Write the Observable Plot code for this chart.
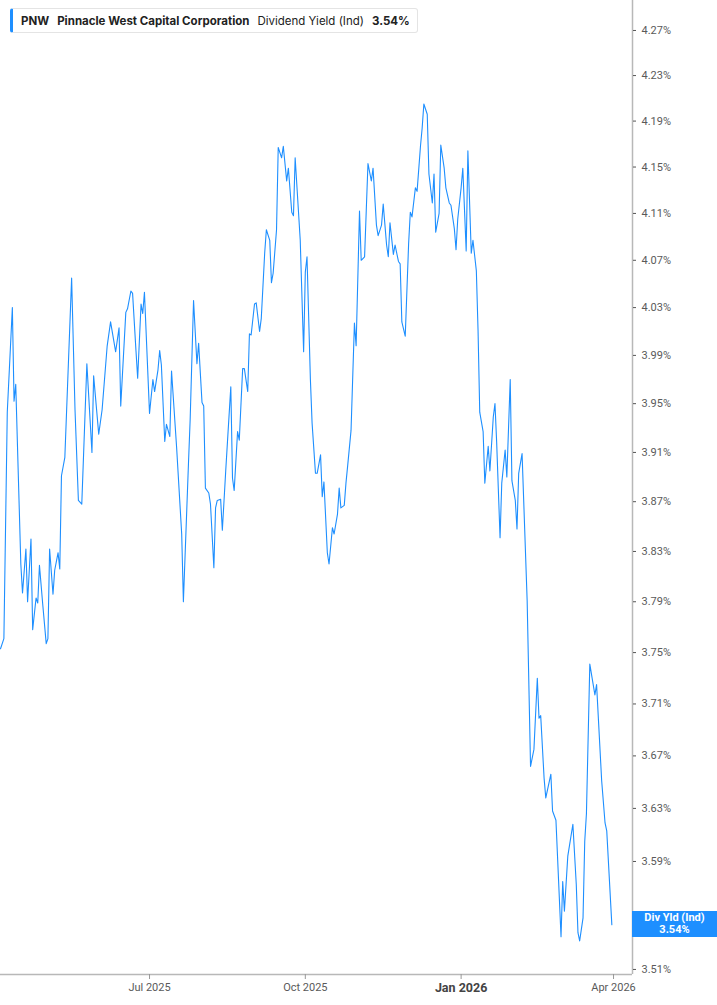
<!DOCTYPE html>
<html>
<head>
<meta charset="utf-8">
<script src="https://cdn.jsdelivr.net/npm/d3@7"></script>
<script src="https://cdn.jsdelivr.net/npm/@observablehq/plot@0.6"></script>
<style>
  html, body { margin: 0; padding: 0; background: #fff; }
  #wrap { position: relative; width: 717px; height: 1005px; overflow: hidden; }
  #legend {
    position: absolute; left: 10px; top: 8px; height: 25px;
    display: flex; align-items: center; gap: 8px;
    padding: 0 7px 0 8px; box-sizing: border-box;
    border: 1px solid #e4e4e4; border-left: 3px solid #1e8fff; border-radius: 3px;
    background: #fff; font-family: Inter, Roboto, sans-serif; font-size: 11.5px; color: #222;
    white-space: nowrap;
  }
  #legend .b { font-weight: 700; }
  #endlabel {
    position: absolute; left: 632px; width: 85px; height: 26px;
    background: #1e8fff; color: #fff; font-family: Roboto, sans-serif; font-weight: 700;
    font-size: 11px; line-height: 12px; text-align: center;
    display: flex; flex-direction: column; justify-content: center;
  }
</style>
</head>
<body>
<div id="wrap"></div>
<script>
const ticker = "PNW";
const company = "Pinnacle West Capital Corporation";
const metric = "Dividend Yield (Ind)";
const endLabelTitle = "Div Yld (Ind)";

const dates = ["2025-04-04","2025-04-06","2025-04-08","2025-04-11","2025-04-12","2025-04-13","2025-04-16","2025-04-17","2025-04-19","2025-04-20","2025-04-22","2025-04-23","2025-04-25","2025-04-26","2025-04-27","2025-04-29",
"2025-05-01","2025-05-02","2025-05-03","2025-05-05","2025-05-06","2025-05-08","2025-05-09","2025-05-10","2025-05-12","2025-05-16","2025-05-18","2025-05-20","2025-05-22","2025-05-25","2025-05-28","2025-05-29",
"2025-06-01","2025-06-03","2025-06-06","2025-06-08","2025-06-11","2025-06-13","2025-06-14","2025-06-17","2025-06-18","2025-06-20","2025-06-21","2025-06-23","2025-06-24","2025-06-26","2025-06-27","2025-06-28",
"2025-07-01","2025-07-03","2025-07-04","2025-07-06","2025-07-07","2025-07-08","2025-07-10","2025-07-11","2025-07-13","2025-07-14","2025-07-17","2025-07-20","2025-07-21","2025-07-24","2025-07-25","2025-07-27","2025-07-29","2025-07-30",
"2025-08-01","2025-08-02","2025-08-03","2025-08-05","2025-08-06","2025-08-08","2025-08-09","2025-08-10","2025-08-12","2025-08-13","2025-08-15","2025-08-16","2025-08-18","2025-08-19","2025-08-20","2025-08-22","2025-08-23","2025-08-25","2025-08-26","2025-08-28","2025-08-29","2025-08-30",
"2025-09-01","2025-09-02","2025-09-04","2025-09-05","2025-09-07","2025-09-08","2025-09-10","2025-09-11","2025-09-12","2025-09-14","2025-09-15","2025-09-17","2025-09-18","2025-09-20","2025-09-21","2025-09-23","2025-09-24","2025-09-25","2025-09-28","2025-09-30",
"2025-10-01","2025-10-02","2025-10-04","2025-10-05","2025-10-07","2025-10-08","2025-10-10","2025-10-11","2025-10-12","2025-10-14","2025-10-15","2025-10-17","2025-10-18","2025-10-20","2025-10-21","2025-10-22","2025-10-24","2025-10-25","2025-10-26","2025-10-28","2025-10-30","2025-10-31",
"2025-11-02","2025-11-03","2025-11-05","2025-11-06","2025-11-07","2025-11-09","2025-11-10","2025-11-12","2025-11-13","2025-11-15","2025-11-16","2025-11-18","2025-11-19","2025-11-20","2025-11-22","2025-11-23","2025-11-25","2025-11-26","2025-11-27","2025-11-29",
"2025-12-01","2025-12-02","2025-12-03","2025-12-05","2025-12-06","2025-12-08","2025-12-09","2025-12-10","2025-12-12","2025-12-13","2025-12-15","2025-12-16","2025-12-17","2025-12-19","2025-12-20","2025-12-22","2025-12-23","2025-12-25","2025-12-26","2025-12-28","2025-12-29","2025-12-30",
"2026-01-01","2026-01-02","2026-01-04","2026-01-05","2026-01-07","2026-01-08","2026-01-10","2026-01-11","2026-01-12","2026-01-14","2026-01-15","2026-01-17","2026-01-18","2026-01-20","2026-01-21","2026-01-22","2026-01-24","2026-01-25","2026-01-27","2026-01-28","2026-01-30","2026-01-31",
"2026-02-02","2026-02-03","2026-02-04","2026-02-06","2026-02-09","2026-02-11","2026-02-13","2026-02-15","2026-02-16","2026-02-17","2026-02-19","2026-02-20","2026-02-23","2026-02-24","2026-02-26",
"2026-03-01","2026-03-02","2026-03-03","2026-03-05","2026-03-08","2026-03-10","2026-03-11","2026-03-12","2026-03-14","2026-03-15","2026-03-16","2026-03-18","2026-03-21","2026-03-22","2026-03-25","2026-03-27","2026-03-28","2026-03-31"];

const values = [3.753,3.761,3.943,4.030,3.952,3.966,3.820,3.797,3.832,3.790,3.840,3.768,3.793,3.789,3.819,3.787,
3.757,3.761,3.832,3.796,3.815,3.829,3.816,3.891,3.906,4.055,3.945,3.871,3.868,3.983,3.910,3.973,
3.925,3.945,3.998,4.018,3.993,4.013,3.948,4.026,4.029,4.044,4.042,3.994,3.971,4.033,4.025,4.043,
3.942,3.970,3.960,3.978,3.994,3.982,3.919,3.933,3.923,3.977,3.914,3.844,3.790,3.901,3.937,4.036,3.983,4.000,
3.951,3.948,3.881,3.877,3.868,3.817,3.865,3.871,3.872,3.847,3.895,3.918,3.964,3.889,3.879,3.927,3.920,3.979,3.979,3.960,4.008,4.007,
4.033,4.034,4.010,4.021,4.076,4.096,4.087,4.051,4.059,4.096,4.167,4.158,4.168,4.138,4.149,4.111,4.108,4.158,4.087,3.993,
4.060,4.073,3.970,3.934,3.893,3.893,3.908,3.874,3.886,3.829,3.820,3.849,3.844,3.860,3.881,3.865,3.867,3.885,3.899,3.928,4.017,3.998,
4.112,4.070,4.073,4.113,4.153,4.138,4.149,4.100,4.091,4.100,4.118,4.083,4.073,4.102,4.075,4.083,4.069,4.067,4.018,4.006,
4.084,4.111,4.107,4.132,4.129,4.168,4.184,4.205,4.196,4.144,4.119,4.144,4.094,4.110,4.169,4.149,4.132,4.119,4.117,4.097,4.079,4.105,
4.132,4.149,4.078,4.164,4.076,4.087,4.061,4.011,3.943,3.927,3.885,3.915,3.895,3.939,3.950,3.918,3.841,3.885,3.912,3.890,3.970,3.887,
3.871,3.848,3.893,3.909,3.791,3.662,3.675,3.730,3.699,3.701,3.653,3.638,3.656,3.628,3.621,
3.534,3.575,3.553,3.594,3.618,3.573,3.537,3.531,3.548,3.605,3.626,3.741,3.717,3.725,3.651,3.619,3.613,3.543];

// 3.55% sits behind the end-of-line value box in the reference, so it is not shown
const yTicks = [3.51,3.59,3.63,3.67,3.71,3.75,3.79,3.83,3.87,3.91,3.95,3.99,4.03,4.07,4.11,4.15,4.19,4.23,4.27];
const xTicks = ["2025-07-01","2025-10-01","2026-01-01","2026-04-01"];
const boldTick = "2026-01-01";
const xDomain = ["2025-04-04","2026-04-12T05:00:00Z"];
const yDomain = [3.5063, 4.2968];

const data = dates.map((d, i) => ({date: new Date(d), value: values[i]}));
const fmtPct = d => d.toFixed(2) + "%";
const xd = xDomain.map(d => new Date(d));

const chart = Plot.plot({
  width: 717,
  height: 1005,
  marginTop: 0,
  marginRight: 85,
  marginBottom: 31,
  marginLeft: 0,
  style: {fontFamily: "Roboto, sans-serif", fontSize: "11px", background: "#fff"},
  x: {type: "utc", domain: xd},
  y: {type: "log", domain: yDomain},
  marks: [
    Plot.ruleY([yDomain[0]], {stroke: "#b8b8b8", strokeWidth: 1.5}),
    Plot.ruleX([xd[1]], {stroke: "#b8b8b8", strokeWidth: 1.5}),
    Plot.axisY(yTicks, {anchor: "right", tickSize: 3, tickPadding: 6, tickFormat: fmtPct, fill: "#5a5a5a", stroke: "#555", label: null}),
    Plot.axisX(xTicks.filter(t => t !== boldTick).map(t => new Date(t)), {anchor: "bottom", tickSize: 5, tickPadding: 4, tickFormat: "%b %Y", fill: "#5a5a5a", stroke: "#999", label: null}),
    Plot.axisX([new Date(boldTick)], {anchor: "bottom", tickSize: 5, tickPadding: 4, tickFormat: "%b %Y", fill: "#444", stroke: "#999", fontWeight: "bold", fontSize: 12.5, label: null}),
    Plot.lineY(data, {x: "date", y: "value", stroke: "#1e8fff", strokeWidth: 1.1})
  ]
});

const wrap = document.getElementById("wrap");
wrap.appendChild(chart);

const last = data[data.length - 1];
const legend = document.createElement("div");
legend.id = "legend";
legend.innerHTML = `<span class="b">${ticker}</span><span class="b">${company}</span><span>${metric}</span><span class="b">${fmtPct(last.value)}</span>`;
wrap.appendChild(legend);

const yPos = chart.scale("y").apply(last.value);
const endLabel = document.createElement("div");
endLabel.id = "endlabel";
endLabel.style.top = (yPos - 13) + "px";
endLabel.innerHTML = `<div>${endLabelTitle}</div><div>${fmtPct(last.value)}</div>`;
wrap.appendChild(endLabel);
</script>
</body>
</html>
